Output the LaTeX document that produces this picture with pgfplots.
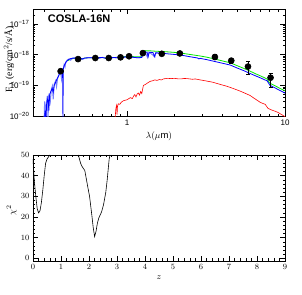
\documentclass[border=0pt]{standalone}
\usepackage{pgfplots}
\pgfplotsset{compat=1.18}
\usepackage{fontspec}
\setmainfont{Liberation Sans}
\newfontfamily\seriffont{Liberation Serif}
\definecolor{lblue}{RGB}{120,130,255}
\definecolor{mgreen}{RGB}{0,230,0}
\begin{document}
\begin{tikzpicture}[x=1pt,y=1pt]
\useasboundingbox (0,0) rectangle (302,294);
\pgfplotsset{every axis/.append style={
  scale only axis, tick align=inside, major tick length=5pt, minor tick length=2.5pt,
  line width=0.6pt, every tick/.style={black, line width=0.5pt},
  tick label style={font=\fontsize{8}{9}\selectfont},
  label style={font=\fontsize{9.5}{11}\selectfont}}}
\begin{axis}[
  at={(33pt,178pt)}, anchor=south west, width=252pt, height=107pt,
  xmode=log, ymode=log, xmin=0.254, xmax=10, ymin=1e-20, ymax=3.1e-17,
  xtick={1,10}, xticklabels={1,10},
  minor xtick={0.3,0.4,0.5,0.6,0.7,0.8,0.9,2,3,4,5,6,7,8,9},
  ytick={1e-20,1e-19,1e-18,1e-17},
  yticklabels={10\textsuperscript{−20},10\textsuperscript{−19},10\textsuperscript{−18},10\textsuperscript{−17}},
  minor ytick={2e-20,3e-20,4e-20,5e-20,6e-20,7e-20,8e-20,9e-20,2e-19,3e-19,4e-19,5e-19,6e-19,7e-19,8e-19,9e-19,2e-18,3e-18,4e-18,5e-18,6e-18,7e-18,8e-18,9e-18,2e-17,3e-17},
  xlabel={$\lambda(\mu\mathrm{m})$},
  xlabel style={at={(rel axis cs:0.5,-0.11)}, anchor=north},
  ylabel={\seriffont F$_\lambda$ (erg/cm$^2$/s/\AA)},
  ylabel style={at={(rel axis cs:-0.095,0.53)}, anchor=center, rotate=0},
  clip=true,
]
\addplot[mgreen, line width=0.8pt] coordinates {
(0.42,6.4e-19)(0.46,7.7e-19)(0.50,7.7e-19)(0.52,7.3e-19)(0.54,7.8e-19)(0.58,8.0e-19)(0.62,7.9e-19)(0.70,8.1e-19)(0.74,7.6e-19)(0.78,7.9e-19)(0.82,8.1e-19)(0.86,8.2e-19)(0.90,8.24e-19)(0.95,8.6e-19)(1.00,8.84e-19)(1.05,8.8e-19)(1.10,8.65e-19)(1.15,8.5e-19)(1.20,8.5e-19)(1.24,8.74e-19)(1.26,1.25e-18)(1.30,1.36e-18)(1.35,1.33e-18)(1.40,1.34e-18)(1.45,1.32e-18)(1.52,1.30e-18)(1.60,1.28e-18)(1.70,1.27e-18)(1.80,1.24e-18)(2.00,1.19e-18)(2.20,1.13e-18)(2.50,1.02e-18)(2.90,9.1e-19)(3.20,8.3e-19)(3.50,7.46e-19)(4.00,6.3e-19)(4.50,5.45e-19)(5.00,4.35e-19)(5.50,3.55e-19)(6.00,2.92e-19)(6.50,2.4e-19)(7.00,2.03e-19)(7.47,1.74e-19)(7.70,1.61e-19)(7.90,1.32e-19)(8.00,1.19e-19)(9.00,8.7e-20)(10.0,6.6e-20)};
\addplot[lblue, line width=1pt] coordinates {
(0.298,5e-21)(0.301,3e-20)(0.304,5e-21)(0.308,2.5e-20)(0.313,4.5e-20)(0.316,8e-21)(0.321,5.5e-20)(0.327,3e-20)(0.332,7.5e-20)(0.337,9.5e-20)(0.341,3.5e-20)(0.346,1.1e-19)(0.353,1.4e-19)(0.358,9e-20)(0.364,1.8e-19)(0.371,2.2e-19)(0.379,2.9e-19)(0.385,1.6e-19)(0.39,3.4e-19)(0.396,3.6e-19)(0.40,4.8e-19)(0.405,4.0e-19)(0.41,5.9e-19)(0.42,6.8e-19)(0.43,7.3e-19)(0.44,6.6e-19)(0.45,7.8e-19)(0.5,7.9e-19)(0.52,7.0e-19)(0.55,7.9e-19)(0.6,8.1e-19)(0.66,7.6e-19)(0.7,8.2e-19)(0.76,7.2e-19)(0.8,8.0e-19)(0.9,8.1e-19)(1.0,8.5e-19)(1.1,8.2e-19)(1.2,8.0e-19)(1.24,8.2e-19)(1.26,1.15e-18)(1.30,1.24e-18)(1.35,8.0e-19)(1.38,1.2e-18)(1.45,1.0e-18)(1.5,8.3e-19)(1.52,1.15e-18)(1.6,1.13e-18)};
\addplot[blue, line width=0.8pt] coordinates {
(0.298,5e-21)(0.303,1.5e-20)(0.306,6e-21)(0.310,2.5e-20)(0.316,4e-20)(0.320,1.5e-20)(0.324,5e-20)(0.330,6.5e-20)(0.336,8e-20)(0.341,6e-20)(0.346,1.0e-19)(0.353,1.25e-19)(0.360,1.6e-19)(0.367,1.9e-19)(0.374,2.4e-19)(0.381,2.8e-19)(0.388,3.2e-19)(0.391,3.3e-19)(0.393,8e-21)(0.395,3.4e-19)(0.40,4.4e-19)(0.41,5.6e-19)(0.42,6.5e-19)(0.43,7.1e-19)(0.44,7.5e-19)(0.46,7.7e-19)(0.48,7.8e-19)(0.50,7.7e-19)(0.52,7.3e-19)(0.54,7.8e-19)(0.58,8.0e-19)(0.62,7.9e-19)(0.66,8.0e-19)(0.70,8.1e-19)(0.74,7.6e-19)(0.78,7.9e-19)(0.82,8.1e-19)(0.86,8.0e-19)(0.90,8.0e-19)(0.95,8.3e-19)(1.00,8.5e-19)(1.05,8.4e-19)(1.10,8.2e-19)(1.15,8.0e-19)(1.20,8.0e-19)(1.24,8.2e-19)(1.26,1.15e-18)(1.30,1.24e-18)(1.34,1.2e-18)(1.36,8.6e-19)(1.38,1.2e-18)(1.42,1.19e-18)(1.46,1.17e-18)(1.49,8.8e-19)(1.52,1.15e-18)(1.60,1.13e-18)(1.70,1.11e-18)(1.80,1.07e-18)(2.00,1.02e-18)(2.20,9.7e-19)(2.50,8.6e-19)(2.80,7.8e-19)(2.85,7.3e-19)(2.90,7.6e-19)(3.20,6.9e-19)(3.50,6.2e-19)(4.00,5.3e-19)(4.50,4.6e-19)(5.00,3.65e-19)(5.50,3.0e-19)(6.00,2.45e-19)(6.50,2.05e-19)(7.00,1.75e-19)(7.47,1.5e-19)(7.70,1.42e-19)(7.90,1.15e-19)(8.00,1.02e-19)(9.00,7.4e-20)(10.0,5.6e-20)};
\addplot[red, line width=0.6pt] coordinates {
(0.84,7.9e-21)(0.85,1.78e-20)(0.86,2.24e-20)(0.865,1.12e-20)(0.87,2.0e-20)(0.88,2.51e-20)(0.9,2.4e-20)(0.92,2.82e-20)(0.95,3.16e-20)(1.0,3.39e-20)(1.05,3.98e-20)(1.08,3.7e-20)(1.1,4.47e-20)(1.12,5.0e-20)(1.14,4.2e-20)(1.16,5.25e-20)(1.18,5.62e-20)(1.2,4.8e-20)(1.22,6.3e-20)(1.24,5.4e-20)(1.27,1.0e-19)(1.3,1.05e-19)(1.35,1.2e-19)(1.4,1.35e-19)(1.45,1.41e-19)(1.5,1.51e-19)(1.55,1.45e-19)(1.6,1.55e-19)(1.65,1.5e-19)(1.7,1.62e-19)(1.8,1.7e-19)(1.9,1.66e-19)(2.0,1.7e-19)(2.1,1.63e-19)(2.2,1.62e-19)(2.3,1.68e-19)(2.4,1.66e-19)(2.6,1.58e-19)(2.7,1.62e-19)(2.9,1.51e-19)(3.2,1.38e-19)(3.5,1.26e-19)(3.9,1.07e-19)(4.3,9.3e-20)(4.7,7.9e-20)(5.2,6.5e-20)(5.6,5.5e-20)(6.0,4.7e-20)(6.5,3.55e-20)(7.0,2.75e-20)(7.5,2.4e-20)(7.8,1.78e-20)(8.2,1.58e-20)(8.6,1.45e-20)(9.0,1.32e-20)(9.5,1.12e-20)(10,9.5e-21)};
\addplot[black, only marks, mark=*, mark size=3pt,
  error bars/.cd, y dir=both, y explicit,
  error bar style={line width=0.8pt, black}, error mark options={black, mark size=2pt, line width=0.8pt, rotate=90}]
coordinates {
(0.38,2.9e-19) += (0,0.3e-19) -= (0,0.3e-19)
(0.49,7.2e-19) += (0,0.5e-19) -= (0,0.5e-19)
(0.63,7.8e-19) += (0,0.5e-19) -= (0,0.5e-19)
(0.766,7.8e-19) += (0,0.6e-19) -= (0,0.6e-19)
(0.91,8.2e-19) += (0,0.6e-19) -= (0,0.6e-19)
(1.03,8.9e-19) += (0,0.6e-19) -= (0,0.6e-19)
(1.26,1.13e-18) += (0,0.8e-19) -= (0,0.8e-19)
(1.66,1.07e-18) += (0,0.8e-19) -= (0,0.8e-19)
(2.16,1.1e-18) += (0,0.8e-19) -= (0,0.8e-19)
(3.6,8.4e-19) += (0,1.5e-19) -= (0,1.25e-19)
(4.57,6.4e-19) += (0,1.2e-19) -= (0,1.0e-19)
(5.83,4.1e-19) += (0,1.8e-19) -= (0,1.9e-19)
(8.1,1.78e-19) += (0,0.72e-19) -= (0,0.9e-19)
};
\node[anchor=west, font=\fontsize{11}{13}\selectfont\bfseries] at (rel axis cs:0.045,0.905) {COSLA-16N};
\end{axis}
\begin{axis}[
  at={(33pt,33pt)}, anchor=south west, width=252pt, height=106pt,
  xmin=0, xmax=9, ymin=-1.3, ymax=50,
  xtick={0,1,...,9}, ytick={0,10,...,50},
  minor x tick num=4, minor y tick num=4,
  xlabel={$z$}, ylabel={$\chi^2$},
  xlabel style={at={(rel axis cs:0.5,-0.1)}, anchor=north},
  ylabel style={at={(rel axis cs:-0.085,0.48)}, anchor=center, rotate=0},
]
\addplot[black, line width=0.6pt] coordinates {
(0.0,48)(0.05,37)(0.1,30)(0.15,24)(0.2,22)(0.25,23)(0.3,27)(0.35,33)(0.4,40)(0.45,46)(0.5,48)(0.6,50)};
\addplot[black, line width=0.6pt] coordinates {
(1.62,50)(1.7,46)(1.75,44.5)(1.85,42.5)(1.95,35)(2.02,30)(2.1,21)(2.15,15)(2.2,10.5)(2.25,13)(2.3,17)(2.35,19.5)(2.45,22.5)(2.52,26)(2.6,32)(2.65,38)(2.72,48)(2.75,50)};
\end{axis}
\end{tikzpicture}
\end{document}
